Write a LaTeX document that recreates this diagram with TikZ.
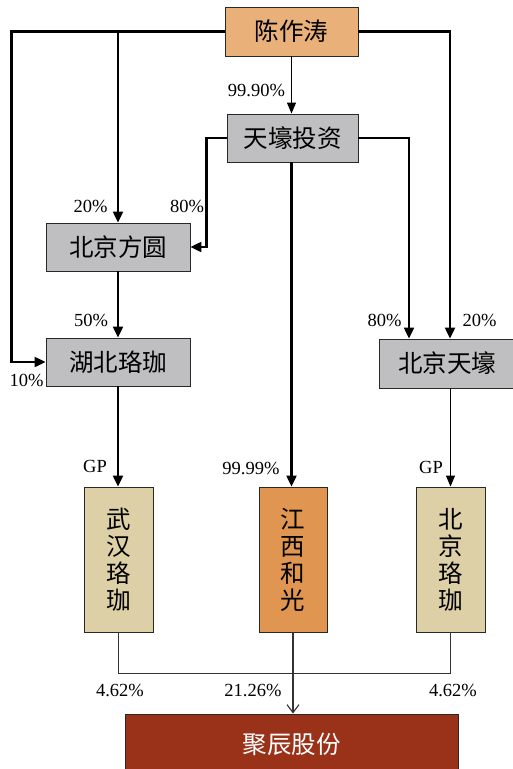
\documentclass[tikz,border=0pt]{standalone}
\usepackage{fontspec}
\setmainfont{Liberation Serif}
\newfontfamily\cjk{Noto Sans CJK SC}
\usetikzlibrary{arrows.meta}
\definecolor{cOrangeL}{RGB}{233,176,122}
\definecolor{cGray}{RGB}{191,191,193}
\definecolor{cTan}{RGB}{221,207,166}
\definecolor{cOrange}{RGB}{224,150,80}
\definecolor{cRed}{RGB}{153,50,25}
\definecolor{cBorder}{RGB}{40,40,40}
\tikzset{
  box/.style={draw=cBorder,line width=0.9pt,inner sep=0pt,align=center,
    font=\cjk\fontsize{24.5}{27}\selectfont},
  hbox/.style={box,minimum height=48},
  vbox/.style={box,minimum width=69,minimum height=145},
  pct/.style={font=\fontsize{18.5}{20}\selectfont,inner sep=0pt},
  thickln/.style={line width=2.2pt,-{Triangle[length=11pt,width=10pt]}},
  thinln/.style={line width=1.2pt,-{Triangle[length=11pt,width=9pt]}},
  thinplain/.style={line width=1.1pt,draw=black!80},
  openln/.style={line width=1.1pt,draw=black!80,-{Straight Barb[length=8pt,width=12pt]}},
}
\begin{document}
\begin{tikzpicture}[x=1pt,y=-1pt]
\useasboundingbox (0,0) rectangle (513,769);
\node[hbox,fill=cOrangeL,minimum width=133,minimum height=49] (czt) at (291.5,31.5) {陈作涛};
\node[hbox,fill=cGray,minimum width=131] (tz) at (292.5,138) {天壕投资};
\node[hbox,fill=cGray,minimum width=144] (bjfy) at (118,247) {北京方圆};
\node[hbox,fill=cGray,minimum width=144] (hblj) at (118,362) {湖北珞珈};
\node[hbox,fill=cGray,minimum width=136,minimum height=49] (bjth) at (447,363.5) {北京天壕};
\node[vbox,fill=cTan] (whlj) at (118.5,559.5) {武\\汉\\珞\\珈};
\node[vbox,fill=cOrange,minimum width=68] (jxhg) at (293,559.5) {江\\西\\和\\光};
\node[vbox,fill=cTan] (bjlj) at (450.5,559.5) {北\\京\\珞\\珈};
\node[box,fill=cRed,text=white,minimum width=333,minimum height=60] (jc) at (291.5,744) {聚辰股份};
% connectors from 陈作涛
\draw[thickln] (czt.west) -- ++(-213,0) |- (hblj.west);
\draw[thickln] (czt.west -| bjfy.north) -- (bjfy.north);
\draw[thickln] (czt.east) -| ([xshift=3]bjth.north);
\draw[thinln] (czt.south) -- (tz.north -| czt.south);
% connectors from 天壕投资
\draw[thickln] (tz.west) -- ++(-20,0) |- (bjfy.east);
\draw[thickln] (tz.east) -| ([xshift=-38]bjth.north);
\draw[thickln] ([xshift=-1]tz.south) -- ([xshift=-1]tz.south |- jxhg.north);
% others
\draw[thickln] (bjfy.south) -- (hblj.north);
\draw[thickln] (hblj.south) -- (whlj.north -| hblj.south);
\draw[thinln] (bjlj.north |- bjth.south) -- (bjlj.north);
\draw[thinplain] (whlj.south) -- ++(0,41) -| (bjlj.south);
\draw[openln] (jxhg.south) -- (jc.north -| jxhg.south);
% labels
\node[pct] (l1) at (256.5,90) {99.90\%};
\node[pct] (l2) at (90.5,206) {20\%};
\node[pct] (l3) at (187,206) {80\%};
\node[pct] (l4) at (91,320) {50\%};
\node[pct] (l5) at (26.5,380) {10\%};
\node[pct] (l6) at (384.5,320) {80\%};
\node[pct] (l7) at (479.5,320) {20\%};
\node[pct] (l8) at (95,466) {GP};
\node[pct] (l9) at (251,468) {99.99\%};
\node[pct] (l10) at (431,467) {GP};
\node[pct] (l11) at (120,690) {4.62\%};
\node[pct] (l12) at (253,690) {21.26\%};
\node[pct] (l13) at (453,690) {4.62\%};
\end{tikzpicture}
\end{document}
